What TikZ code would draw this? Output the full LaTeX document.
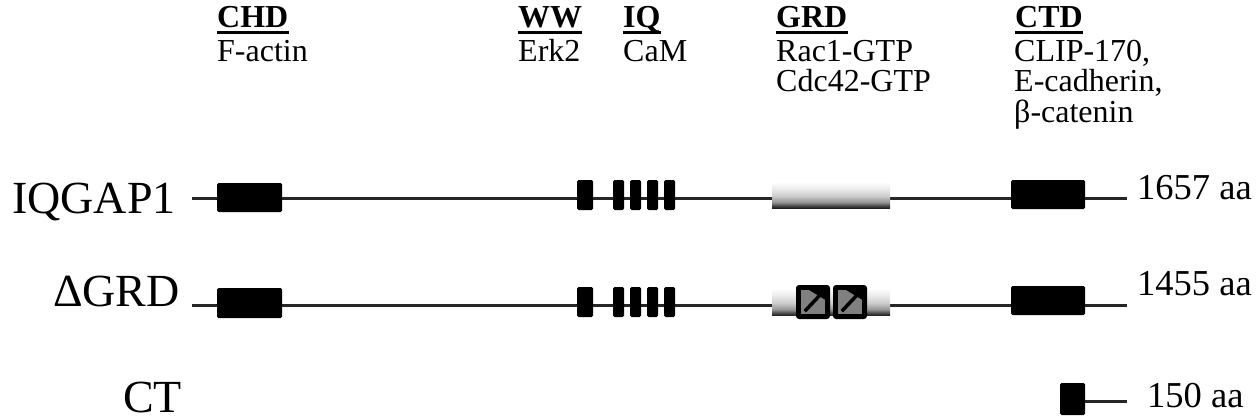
\documentclass[tikz,border=0pt]{standalone}
\usepackage{fontspec}
\setmainfont{Liberation Serif}

% GAP-related domain fill: pale on top, dark along the lower edge
\pgfdeclareverticalshading{grdfade}{100bp}{color(0bp)=(black!88); color(25bp)=(black!88); color(30bp)=(black!70); color(36bp)=(black!42); color(48bp)=(black!20); color(62bp)=(black!8); color(75bp)=(white); color(100bp)=(white)}

\begin{document}
\begin{tikzpicture}[x=1pt, y=-1pt,
  backbone/.style={line width=3pt, black!85},
  dombox/.style={fill=black, draw=none, rounded corners=1.5pt, inner sep=0pt},
  grdpatch/.style={shading=grdfade, draw=none, inner sep=0pt,
                   minimum width=118pt, minimum height=26pt},
  insertbox/.style={dombox, minimum width=34pt, minimum height=34pt, rounded corners=3pt},
  rowlabel/.style={anchor=base west, inner sep=0pt, font=\fontsize{46}{46}\selectfont},
  sizelabel/.style={anchor=base west, inner sep=0pt, font=\fontsize{36.5}{36.5}\selectfont},
  domhead/.style={anchor=base west, inner sep=0pt, font=\fontsize{32}{30}\selectfont\bfseries},
  domtext/.style={anchor=base west, inner sep=0pt, font=\fontsize{32}{30}\selectfont},
  headrule/.style={line width=2.2pt, black}]
\useasboundingbox (0,0) rectangle (1258,420);

% ---- domain headings and binding partners ----
\node[domhead] (hchd) at (217,28) {CHD};
\node[domtext] (pchd) at (217,62) {F-actin};
\node[domhead] (hww) at (518,28) {WW};
\node[domtext] (pww) at (518,62) {Erk2};
\node[domhead] (hiq) at (623,28) {IQ};
\node[domtext] (piq) at (623,62) {CaM};
\node[domhead] (hgrd) at (776,28) {GRD};
\node[domtext] (pgrda) at (776,62) {Rac1-GTP};
\node[domtext] (pgrdb) at (776,92) {Cdc42-GTP};
\node[domhead] (hctd) at (1015,28) {CTD};
\node[domtext] (pctda) at (1014,62) {CLIP-170,};
\node[domtext] (pctdb) at (1014,92) {E-cadherin,};
\node[domtext] (pctdc) at (1014,122) {β-catenin};
\foreach \h in {hchd,hww,hiq,hgrd,hctd}
  \draw[headrule] ([yshift=-4.5pt]\h.base west) -- ([yshift=-4.5pt]\h.base east);

% ---- construct names ----
\node[rowlabel] (nfull) at (12,213) {IQGAP1};
\node[rowlabel] (ndgrd) at (53,306) {ΔGRD};
\node[rowlabel] (nct) at (123,412) {CT};

% ---- backbones ----
\coordinate (r1s) at (192,198);  \coordinate (r1e) at (1127,198);
\coordinate (r2s) at (192,305);  \coordinate (r2e) at (1127,305);
\coordinate (r3e) at (1127,401);
\draw[backbone] (r1s) -- (r1e);
\draw[backbone] (r2s) -- (r2e);

% ---- IQGAP1 domains ----
\node[dombox, minimum width=65pt, minimum height=29pt] (chd1) at (249.5,197.5) {};
\node[dombox, minimum width=16pt, minimum height=30pt] (ww1) at (585,195) {};
\foreach \x [count=\i] in {618.5,635.5,652.5,669.5}
  \node[dombox, minimum width=11pt, minimum height=30pt] (iq1\i) at (\x,195) {};
\node[grdpatch] (grd1) at (831,195) {};
\node[dombox, minimum width=74pt, minimum height=29pt] (ctd1) at (1048,194.5) {};

% ---- GRD deletion construct ----
\node[dombox, minimum width=65pt, minimum height=30pt] (chd2) at (249.5,303) {};
\node[dombox, minimum width=16pt, minimum height=30pt] (ww2) at (585,302) {};
\foreach \x [count=\i] in {618.5,635.5,652.5,669.5}
  \node[dombox, minimum width=11pt, minimum height=30pt] (iq2\i) at (\x,302) {};
\node[grdpatch, minimum height=27pt] (grd2) at (831,302) {};
\node[insertbox] (gb1) at (813,302) {};
\node[insertbox] (gb2) at (850,302) {};
\foreach \b in {gb1,gb2} {
  \fill[black!50] ([shift={(5,5)}]\b.north west) rectangle ([shift={(-5,-5)}]\b.south east);
  \fill[black] ([shift={(13,5)}]\b.north west) -- ([shift={(-5,5)}]\b.north east)
       -- ([shift={(-5,15)}]\b.north east) -- cycle;
  \draw[black, line width=3.5pt] ([shift={(9,-8)}]\b.south west) -- ([shift={(-9,9)}]\b.north east);
}
\node[dombox, minimum width=74pt, minimum height=29pt] (ctd2) at (1048,300.5) {};

% ---- C-terminal fragment ----
\node[dombox, minimum width=25pt, minimum height=32pt] (ct3) at (1072.5,399) {};
\draw[backbone] (ct3.east |- r3e) -- (r3e);

% ---- lengths ----
\node[sizelabel] (len1) at (1137,199) {1657 aa};
\node[sizelabel] (len2) at (1137,295) {1455 aa};
\node[sizelabel] (len3) at (1147,407) {150 aa};
\end{tikzpicture}
\end{document}
